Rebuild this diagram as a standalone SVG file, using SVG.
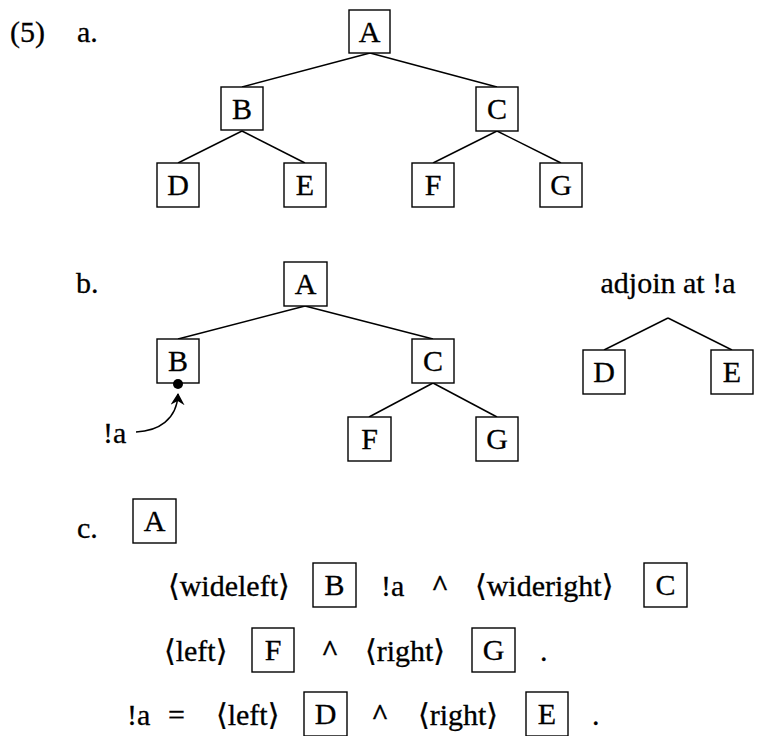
<svg xmlns="http://www.w3.org/2000/svg" width="757" height="736" viewBox="0 0 757 736" font-family="'Liberation Serif', 'Times New Roman', Tinos, 'Nimbus Roman', 'DejaVu Serif', serif" font-size="30">
<defs>
<style>
text{font-family:"Liberation Serif","Times New Roman",Tinos,"Nimbus Roman","DejaVu Serif",serif;font-size:30px;fill:#000;stroke:#000;stroke-width:0.3}
.lbl{text-anchor:middle}
rect{fill:#fff;stroke:#000;stroke-width:1.4}
.edge{stroke:#000;stroke-width:1.5;fill:none}
.caret{font-weight:bold;text-anchor:middle}
</style>
<marker id="stealth" viewBox="0 0 12 14" refX="11" refY="7" markerWidth="12" markerHeight="14" markerUnits="userSpaceOnUse" orient="auto">
<path d="M0,0 L12,7 L0,14 L4,7 Z" fill="#000"/>
</marker>
</defs>

<text x="10" y="42">(5)</text>
<text x="77" y="42">a.</text>

<g id="connectors">
<line class="edge" x1="370" y1="53" x2="242" y2="87"/>
<line class="edge" x1="370" y1="53" x2="497" y2="87"/>
<line class="edge" x1="242" y1="131" x2="178" y2="163"/>
<line class="edge" x1="242" y1="131" x2="305" y2="163"/>
<line class="edge" x1="497" y1="131" x2="433" y2="163"/>
<line class="edge" x1="497" y1="131" x2="561" y2="163"/>
<line class="edge" x1="305" y1="306" x2="178" y2="339"/>
<line class="edge" x1="305" y1="306" x2="433" y2="339"/>
<line class="edge" x1="433" y1="383" x2="369" y2="417"/>
<line class="edge" x1="433" y1="383" x2="497" y2="417"/>
<line class="edge" x1="668" y1="318" x2="604" y2="350"/>
<line class="edge" x1="668" y1="318" x2="732" y2="350"/>
<path class="edge" d="M136,432 C158,431 177,420 178,394" marker-end="url(#stealth)"/>
</g>

<g id="a-A"><rect x="349" y="10" width="41" height="43"/><text class="lbl" x="369.5" y="42">A</text></g>
<g id="a-B"><rect x="221" y="87" width="42" height="43"/><text class="lbl" x="242" y="119">B</text></g>
<g id="a-C"><rect x="476" y="87" width="42" height="44"/><text class="lbl" x="497" y="119">C</text></g>
<g id="a-D"><rect x="157" y="163" width="42" height="44"/><text class="lbl" x="178" y="195">D</text></g>
<g id="a-E"><rect x="284" y="163" width="42" height="44"/><text class="lbl" x="305" y="195">E</text></g>
<g id="a-F"><rect x="412" y="163" width="42" height="44"/><text class="lbl" x="433" y="195">F</text></g>
<g id="a-G"><rect x="540" y="163" width="42" height="44"/><text class="lbl" x="561" y="195">G</text></g>

<text x="76" y="293">b.</text>
<g id="b-A"><rect x="284" y="262" width="43" height="44"/><text class="lbl" x="305.5" y="294">A</text></g>
<g id="b-B"><rect x="157" y="339" width="42" height="44"/><text class="lbl" x="178" y="371">B</text><circle cx="178" cy="384" r="5" fill="#000"/></g>
<g id="b-C"><rect x="412" y="339" width="42" height="44"/><text class="lbl" x="433" y="371">C</text></g>
<g id="b-F"><rect x="348" y="417" width="43" height="44"/><text class="lbl" x="369.5" y="449">F</text></g>
<g id="b-G"><rect x="476" y="417" width="42" height="44"/><text class="lbl" x="497" y="449">G</text></g>
<text x="103" y="443">!a</text>

<text class="lbl" x="668" y="293">adjoin at !a</text>
<g id="b-D"><rect x="583" y="350" width="42" height="44"/><text class="lbl" x="604" y="382">D</text></g>
<g id="b-E"><rect x="711" y="350" width="42" height="44"/><text class="lbl" x="732" y="382">E</text></g>

<text x="77" y="538">c.</text>
<g id="c-A"><rect x="133" y="499" width="43" height="44"/><text class="lbl" x="154.5" y="531">A</text></g>

<text x="168" y="596">⟨wideleft⟩</text>
<g id="c-B"><rect x="313" y="563" width="43" height="44"/><text class="lbl" x="334.5" y="595">B</text></g>
<text x="381" y="596">!a</text>
<text class="caret" x="440" y="596">^</text>
<text x="475" y="596">⟨wideright⟩</text>
<g id="c-C"><rect x="644" y="563" width="43" height="44"/><text class="lbl" x="665.5" y="595">C</text></g>

<text x="164" y="661">⟨left⟩</text>
<g id="c-F"><rect x="252" y="628" width="42" height="44"/><text class="lbl" x="273" y="660">F</text></g>
<text class="caret" x="330" y="661">^</text>
<text x="365" y="661">⟨right⟩</text>
<g id="c-G"><rect x="472" y="628" width="43" height="44"/><text class="lbl" x="493.5" y="660">G</text></g>
<text x="540" y="661">.</text>

<text x="127" y="725">!a</text>
<text x="168" y="725">=</text>
<text x="216" y="725">⟨left⟩</text>
<g id="c-D"><rect x="304" y="692" width="43" height="44"/><text class="lbl" x="325.5" y="724">D</text></g>
<text class="caret" x="380" y="725">^</text>
<text x="418" y="725">⟨right⟩</text>
<g id="c-E"><rect x="526" y="692" width="42" height="44"/><text class="lbl" x="547" y="724">E</text></g>
<text x="592" y="725">.</text>
</svg>
